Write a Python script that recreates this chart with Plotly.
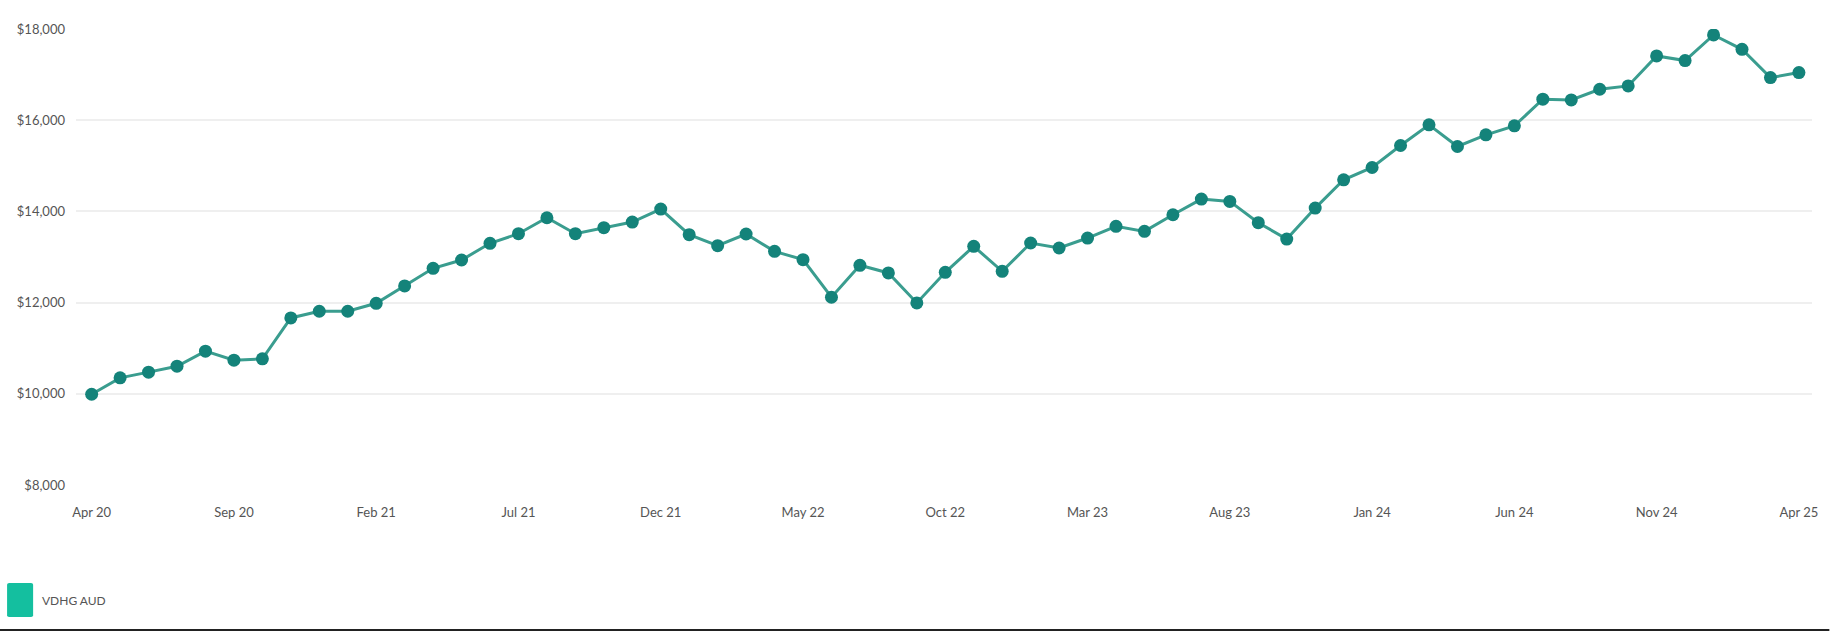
import plotly.graph_objects as go

# monthly labels, Apr 2020 .. Apr 2025
months = [
    "Apr 20", "May 20", "Jun 20", "Jul 20", "Aug 20", "Sep 20", "Oct 20", "Nov 20", "Dec 20",
    "Jan 21", "Feb 21", "Mar 21", "Apr 21", "May 21", "Jun 21", "Jul 21", "Aug 21", "Sep 21",
    "Oct 21", "Nov 21", "Dec 21", "Jan 22", "Feb 22", "Mar 22", "Apr 22", "May 22", "Jun 22",
    "Jul 22", "Aug 22", "Sep 22", "Oct 22", "Nov 22", "Dec 22", "Jan 23", "Feb 23", "Mar 23",
    "Apr 23", "May 23", "Jun 23", "Jul 23", "Aug 23", "Sep 23", "Oct 23", "Nov 23", "Dec 23",
    "Jan 24", "Feb 24", "Mar 24", "Apr 24", "May 24", "Jun 24", "Jul 24", "Aug 24", "Sep 24",
    "Oct 24", "Nov 24", "Dec 24", "Jan 25", "Feb 25", "Mar 25", "Apr 25",
]

# portfolio value in AUD (growth of $10,000)
values = [
    9990, 10350, 10475, 10605, 10935, 10737, 10766, 11664, 11810, 11810,
    11985, 12365, 12752, 12934, 13300, 13511, 13861, 13511, 13642, 13766,
    14050, 13489, 13248, 13504, 13124, 12942, 12117, 12818, 12650, 11993,
    12664, 13234, 12686, 13307, 13197, 13416, 13672, 13562, 13927, 14270,
    14219, 13752, 13394, 14073, 14693, 14963, 15445, 15898, 15423, 15679,
    15876, 16460, 16445, 16679, 16752, 17409, 17307, 17869, 17555, 16934,
    17044,
]

x_ticks = ["Apr 20", "Sep 20", "Feb 21", "Jul 21", "Dec 21", "May 22", "Oct 22",
           "Mar 23", "Aug 23", "Jan 24", "Jun 24", "Nov 24", "Apr 25"]
y_ticks = [8000, 10000, 12000, 14000, 16000, 18000]
y_labels = ["$8,000", "$10,000", "$12,000", "$14,000", "$16,000", "$18,000"]

fig = go.Figure()
fig.add_trace(go.Scatter(
    x=months, y=values, mode="lines+markers", name="VDHG AUD",
    line=dict(color="#3a9d8f", width=3),
    marker=dict(color="#14837a", size=13),
    showlegend=False,
))

fig.update_xaxes(
    type="category", range=[-0.55, 60.46],
    tickmode="array", tickvals=x_ticks, ticktext=x_ticks,
    showgrid=False, showline=False, zeroline=False, ticks="",
    ticklabelstandoff=18,
    tickfont=dict(size=13, color="#555555"),
)
fig.update_yaxes(
    range=[8000, 18000], tickvals=y_ticks, ticktext=y_labels,
    showgrid=True, gridcolor="#efefef", gridwidth=2, zeroline=False,
    showline=False, ticks="", ticklabelstandoff=10,
    tickfont=dict(size=13, color="#555555"),
)

# legend swatch and label, drawn in paper space below the plot
fig.add_shape(
    type="path", xref="paper", yref="paper",
    path="M -0.0385,-0.2895 L -0.0259,-0.2895 Q -0.0247,-0.2895 -0.0247,-0.2855 "
         "L -0.0247,-0.2189 Q -0.0247,-0.2149 -0.0259,-0.2149 L -0.0385,-0.2149 "
         "Q -0.0397,-0.2149 -0.0397,-0.2189 L -0.0397,-0.2855 Q -0.0397,-0.2895 -0.0385,-0.2895 Z",
    fillcolor="#14bf9f", line=dict(width=0),
)
fig.add_annotation(
    text="VDHG AUD", xref="paper", yref="paper", x=-0.0207, y=-0.2522,
    xanchor="left", yanchor="middle", showarrow=False,
    font=dict(size=12, color="#555555"),
)
# dark rule along the bottom edge
fig.add_shape(
    type="line", xref="paper", yref="paper", x0=-0.05, x1=1.01, y0=-0.318, y1=-0.318,
    line=dict(color="#222222", width=2),
)

fig.update_layout(
    width=1830, height=632,
    margin=dict(l=76, r=15, t=29, b=147),
    plot_bgcolor="white", paper_bgcolor="white",
    font=dict(family="Lato, Open Sans, sans-serif"),
)

# drop the browser's default body margin so the figure sits at the page origin
fig.write_html(
    "out.html",
    config={"displayModeBar": False},
    post_script="document.body.style.margin='0';document.body.style.overflow='hidden';",
)
